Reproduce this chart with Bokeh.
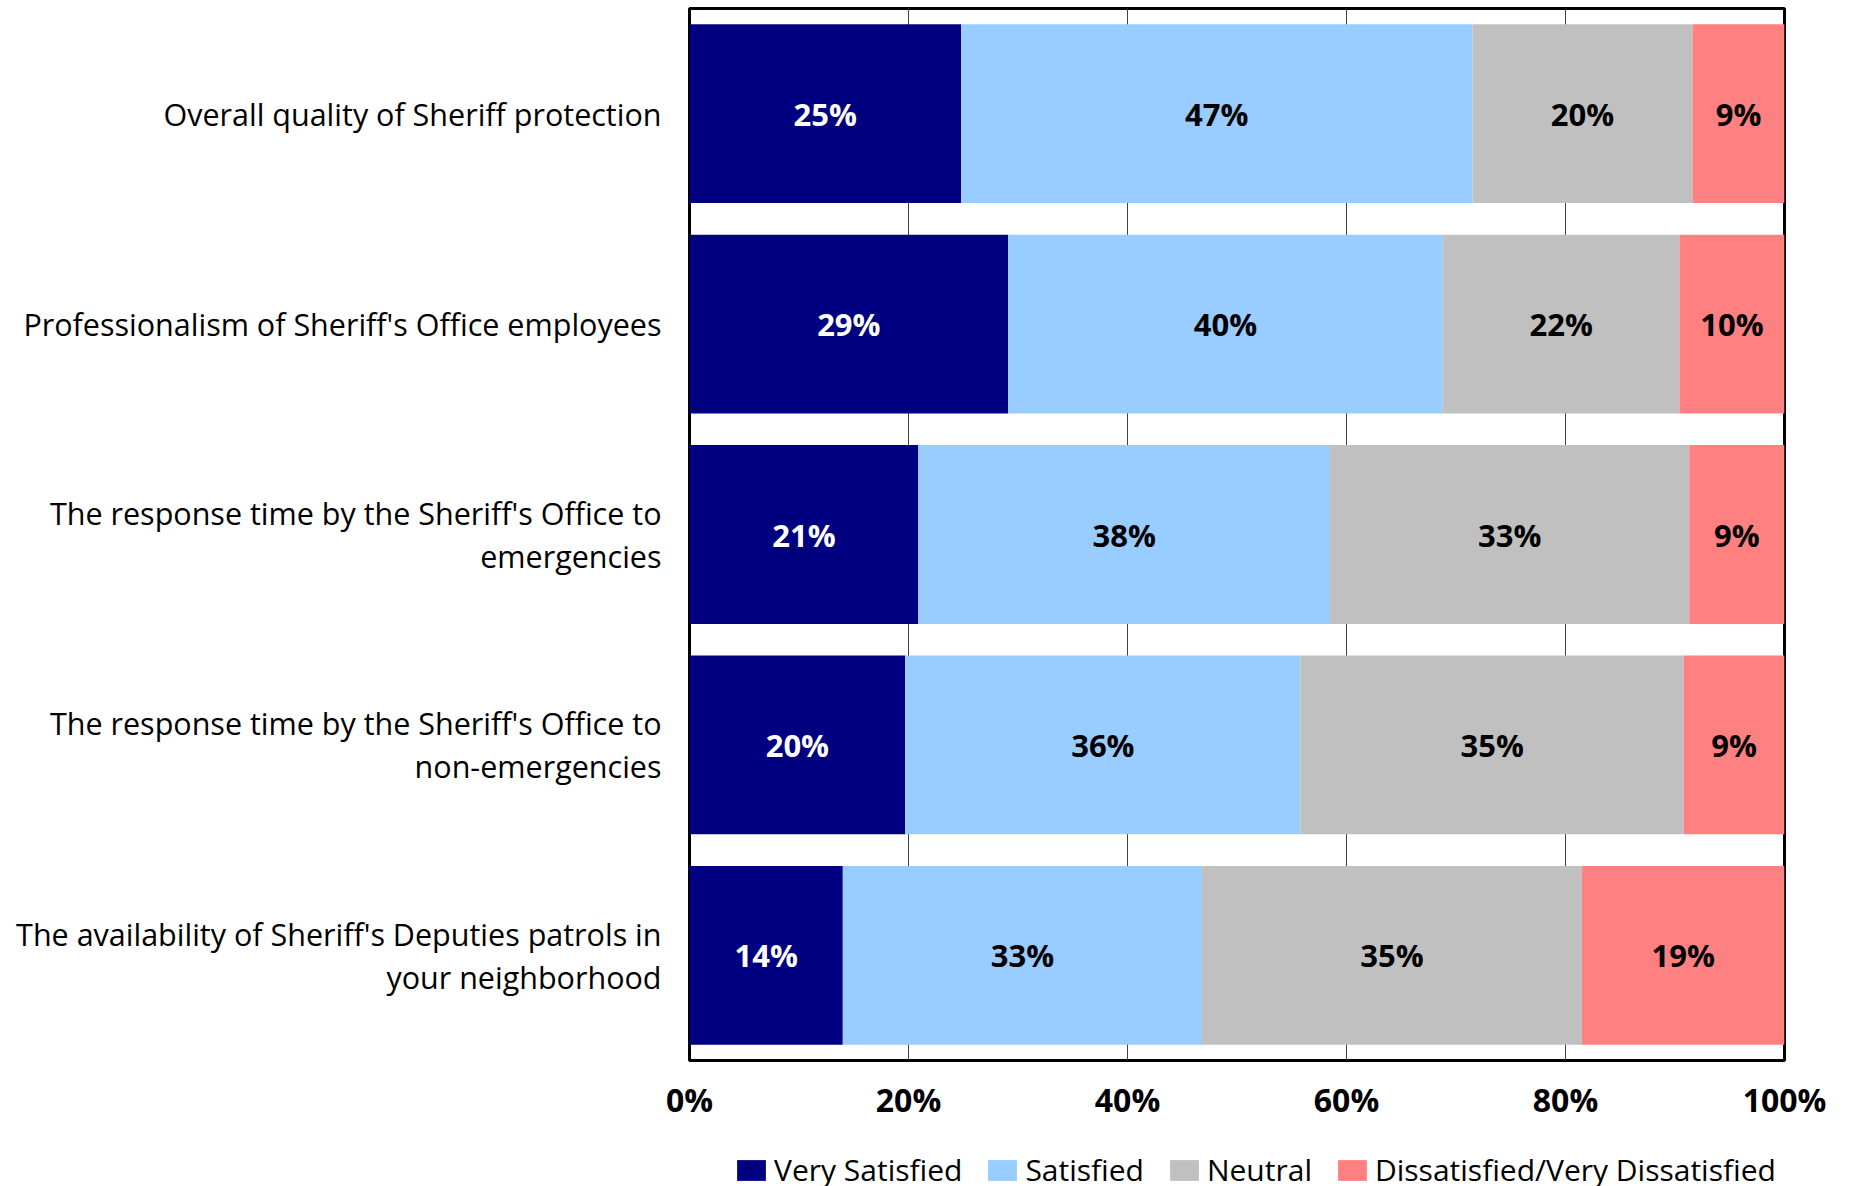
import numpy as np
from bokeh.plotting import figure
from bokeh.layouts import column
from bokeh.models import (FactorRange, Range1d, Legend, LegendItem, ColumnDataSource,
                          PrintfTickFormatter, FixedTicker)
from bokeh.core.properties import value
from bokeh.embed import file_html
from bokeh.resources import INLINE

# ---------------- data ----------------
categories = [
    "Overall quality of Sheriff protection",
    "Professionalism of Sheriff's Office employees",
    "The response time by the Sheriff's Office to\nemergencies",
    "The response time by the Sheriff's Office to\nnon-emergencies",
    "The availability of Sheriff's Deputies patrols in\nyour neighborhood",
]
series_names = ["Very Satisfied", "Satisfied", "Neutral", "Dissatisfied/Very Dissatisfied"]
very_satisfied = [24.8, 29.1, 20.9, 19.7, 14.0]
satisfied = [46.7, 39.7, 37.6, 36.1, 32.8]
neutral = [20.1, 21.6, 32.8, 35.0, 34.7]
dissatisfied = [8.4, 9.6, 8.7, 9.2, 18.5]
very_satisfied_labels = ["25%", "29%", "21%", "20%", "14%"]
satisfied_labels = ["47%", "40%", "38%", "36%", "33%"]
neutral_labels = ["20%", "22%", "33%", "35%", "35%"]
dissatisfied_labels = ["9%", "10%", "9%", "9%", "19%"]
x_ticks = [0, 20, 40, 60, 80, 100]

colors = ["#000080", "#99CCFF", "#C0C0C0", "#FF8080"]
label_colors = ["white", "black", "black", "black"]

values = [very_satisfied, satisfied, neutral, dissatisfied]
labels = [very_satisfied_labels, satisfied_labels, neutral_labels, dissatisfied_labels]
keys = ["vs", "s", "n", "d"]

src = ColumnDataSource(dict(cat=categories, vs=very_satisfied, s=satisfied,
                            n=neutral, d=dissatisfied))

FONT = value("Open Sans")

p = figure(
    y_range=FactorRange(factors=categories[::-1]),
    x_range=Range1d(0, 100),
    frame_width=1095, frame_height=1052,
    min_border_left=689, min_border_right=60,
    min_border_top=8, min_border_bottom=90,
    output_backend="svg", toolbar_location=None,
)
p.background_fill_color = "white"
p.border_fill_color = "white"
p.outline_line_color = "black"
p.outline_line_width = 3

renderers = p.hbar_stack(keys, y="cat", height=0.85, color=colors, line_color=None, source=src)

# value labels centred in each segment
left = np.zeros(len(categories))
for vals, lbls, tc in zip(values, labels, label_colors):
    v = np.array(vals, dtype=float)
    centers = left + v / 2.0
    left = left + v
    p.text(x=list(centers), y=categories, text=lbls,
           text_align="center", text_baseline="middle",
           text_font=FONT, text_font_style="bold", text_font_size="31px",
           text_color=tc)

# grid
p.ygrid.grid_line_color = None
p.xgrid.grid_line_color = "#404040"
p.xgrid.grid_line_width = 1
p.xgrid.ticker = FixedTicker(ticks=x_ticks)

# x axis
p.xaxis.ticker = FixedTicker(ticks=x_ticks)
p.xaxis.formatter = PrintfTickFormatter(format="%d%%")
p.xaxis.axis_line_color = None
p.xaxis.major_tick_line_color = None
p.xaxis.minor_tick_line_color = None
p.xaxis.major_label_standoff = 11
p.xaxis.major_label_text_font = "Open Sans"
p.xaxis.major_label_text_font_style = "bold"
p.xaxis.major_label_text_font_size = "32px"
p.xaxis.major_label_text_color = "black"

# y axis
p.yaxis.axis_line_color = None
p.yaxis.major_tick_line_color = None
p.yaxis.minor_tick_line_color = None
p.yaxis.major_label_standoff = 22
p.yaxis.major_label_text_font = "Open Sans"
p.yaxis.major_label_text_font_style = "normal"
p.yaxis.major_label_text_font_size = "30.5px"
p.yaxis.major_label_text_color = "black"
p.yaxis.major_label_text_line_height = 1.02

# ---------------- legend strip (separate small figure below) ----------------
lg = figure(width=1844, height=50, min_border=0,
            x_range=Range1d(0, 100), y_range=FactorRange(factors=categories[::-1]),
            x_axis_location=None, y_axis_location=None,
            output_backend="svg", toolbar_location=None)
lg.outline_line_color = None
lg.grid.grid_line_color = None
lg.background_fill_color = "white"
lg.border_fill_color = "white"
legend_renderers = lg.hbar_stack(keys, y="cat", height=0.85, color=colors,
                                 line_color=None, source=src)
for r in legend_renderers:
    r.visible = False

legend = Legend(
    items=[LegendItem(label=n, renderers=[r]) for n, r in zip(series_names, legend_renderers)],
    orientation="horizontal", location=(44, 10),
    padding=0, margin=0, spacing=22, label_standoff=5,
    glyph_width=36, glyph_height=26, label_height=21,
    label_text_font="Open Sans", label_text_font_size="30px",
    label_text_color="black",
    border_line_color=None, background_fill_alpha=0,
)
lg.add_layout(legend)

layout = column(p, lg, spacing=0)
open("out.html", "w").write(file_html(layout, INLINE))
